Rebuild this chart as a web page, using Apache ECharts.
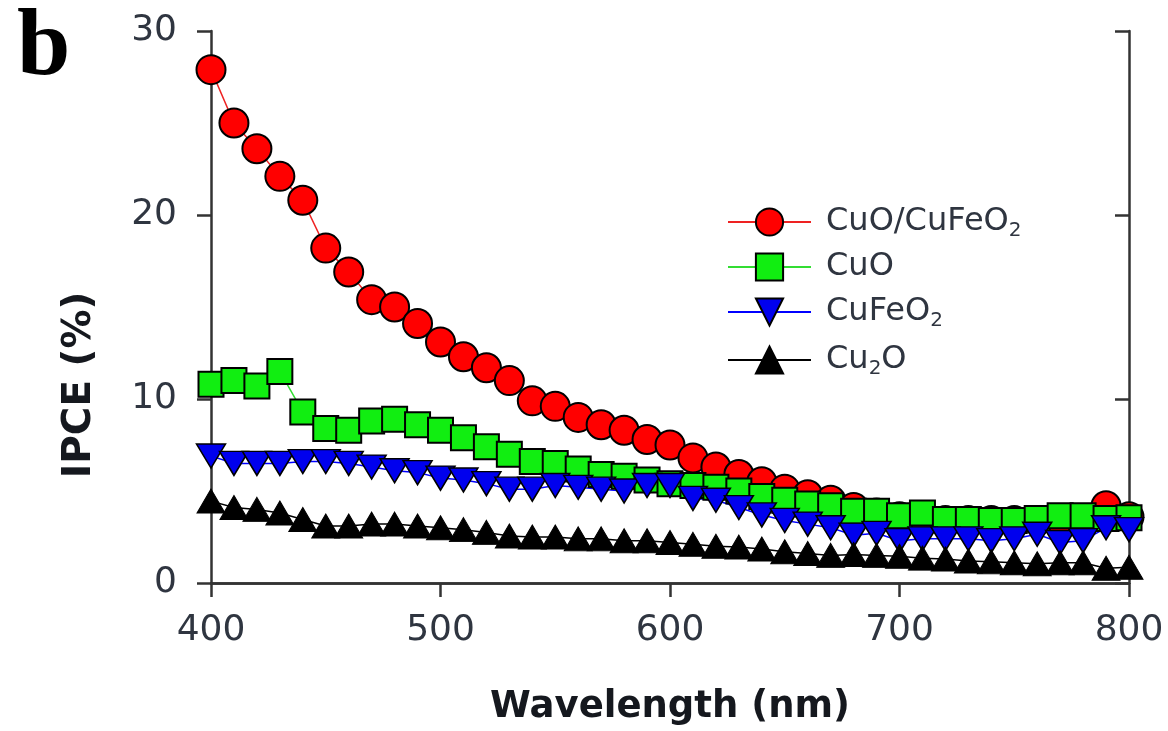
<!DOCTYPE html>
<html>
<head>
<meta charset="utf-8">
<script src="https://cdn.jsdelivr.net/npm/echarts@6/dist/echarts.min.js"></script>
<style>html,body{margin:0;padding:0;background:#fff}#c{width:1168px;height:731px}</style>
</head>
<body>
<div id="c"></div>
<script>
// Wavelength (nm)
const wavelengths = [400,410,420,430,440,450,460,470,480,490,500,510,520,530,540,550,560,570,580,590,600,610,620,630,640,650,660,670,680,690,700,710,720,730,740,750,760,770,780,790,800];
const xTicks = [400,500,600,700,800];
const yTicks = [0,10,20,30];
// IPCE (%)
const cuoCufeo2 = [27.9,25.0,23.6,22.1,20.8,18.2,16.9,15.4,15.0,14.1,13.1,12.3,11.7,11.0,9.9,9.6,9.0,8.6,8.3,7.8,7.5,6.8,6.3,5.9,5.5,5.1,4.8,4.5,4.1,3.8,3.6,3.5,3.4,3.4,3.4,3.4,3.4,3.2,3.4,4.2,3.6];
const cuo = [10.8,11.0,10.7,11.5,9.3,8.4,8.3,8.8,8.9,8.6,8.3,7.9,7.4,7.0,6.6,6.5,6.2,5.9,5.8,5.6,5.4,5.3,5.2,5.0,4.7,4.5,4.3,4.2,3.9,3.9,3.65,3.8,3.45,3.45,3.4,3.4,3.5,3.65,3.65,3.5,3.55];
const cufeo2 = [6.9,6.5,6.5,6.5,6.6,6.6,6.5,6.3,6.1,6.0,5.7,5.6,5.4,5.1,5.1,5.3,5.2,5.1,5.0,5.3,5.3,4.6,4.5,4.1,3.7,3.4,3.2,3.0,2.6,2.7,2.3,2.4,2.4,2.4,2.3,2.4,2.65,2.2,2.3,3.0,2.9];
const cu2o = [4.45,4.1,4.0,3.8,3.45,3.1,3.1,3.2,3.2,3.1,3.0,2.9,2.75,2.55,2.5,2.5,2.4,2.4,2.3,2.3,2.2,2.1,2.0,1.95,1.85,1.7,1.6,1.5,1.55,1.5,1.45,1.35,1.3,1.2,1.15,1.1,1.05,1.1,1.1,0.8,0.85];

const seriesNames = ['CuO/CuFeO2','CuO','CuFeO2','Cu2O'];
const legendRich = {
  'CuO/CuFeO2': '{n|CuO/CuFeO}{s|2}',
  'CuO': '{n|CuO}',
  'CuFeO2': '{n|CuFeO}{s|2}',
  'Cu2O': '{n|Cu}{s|2}{n|O}'
};

function pairs(arr){ return wavelengths.map((w,i)=>[w,arr[i]]); }

const axisColor = '#333';
const labelColor = '#2f3540';
const titleColor = '#15181e';
const chart = echarts.init(document.getElementById('c'), null, {renderer:'canvas'});

function mkSeries(name, data, symbol, size, fill, lineColor, border){
  return {
    name: name, type: 'line', data: pairs(data),
    symbol: symbol, symbolSize: size, clip: false,
    lineStyle: {color: lineColor, width: 1.5},
    itemStyle: {color: fill, borderColor: '#000', borderWidth: border},
    emphasis: {disabled: true},
    z: 3
  };
}

chart.setOption({
  animation: false,
  backgroundColor: '#fff',
  title: {
    text: 'b', left: 12, top: -4,
    textStyle: {fontFamily: 'Liberation Serif', fontWeight: 'bold', fontSize: 96, color: '#000'}
  },
  graphic: [{
    type: 'text', x: 80, y: 385, rotation: Math.PI / 2,
    style: {text: 'IPCE (%)', align: 'center', verticalAlign: 'middle',
      font: 'bold 39px "DejaVu Sans"', fill: titleColor}
  }],
  grid: {left: 211, right: 39, top: 31, bottom: 134, containLabel: false},
  legend: {
    orient: 'vertical', left: 722, top: 198,
    itemWidth: 83, itemHeight: 34, itemGap: 10,
    data: seriesNames,
    formatter: function(n){ return legendRich[n]; },
    textStyle: {
      padding: [0,0,0,10],
      rich: {
        n: {fontFamily: 'DejaVu Sans', fontSize: 32, color: labelColor, lineHeight: 34},
        s: {fontFamily: 'DejaVu Sans', fontSize: 20, color: labelColor, lineHeight: 34, padding: [18,0,0,0]}
      }
    }
  },
  xAxis: [{
    type: 'value', min: 400, max: 800, interval: 100, position: 'bottom',
    name: 'Wavelength (nm)', nameLocation: 'middle', nameGap: 106,
    nameTextStyle: {fontFamily: 'DejaVu Sans', fontWeight: 'bold', fontSize: 37, color: titleColor},
    axisLine: {show: true, lineStyle: {color: axisColor, width: 2.5}},
    axisTick: {show: true, inside: false, length: 14, lineStyle: {color: axisColor, width: 2.5}},
    axisLabel: {margin: 30, fontFamily: 'DejaVu Sans', fontSize: 36, color: labelColor,
      formatter: function(v){ return xTicks.indexOf(v) >= 0 ? String(v) : ''; }},
    splitLine: {show: false}
  },{
    type: 'value', min: 400, max: 800, interval: 100, position: 'top',
    axisLine: {show: true, lineStyle: {color: axisColor, width: 2.5}},
    axisTick: {show: true, inside: true, length: 14, lineStyle: {color: axisColor, width: 2.5}},
    axisLabel: {show: false}, splitLine: {show: false}
  }],
  yAxis: [{
    type: 'value', min: 0, max: 30, interval: 10, position: 'left',
    axisLine: {show: true, lineStyle: {color: axisColor, width: 2.5}},
    axisTick: {show: true, inside: false, length: 14, lineStyle: {color: axisColor, width: 2.5}},
    axisLabel: {margin: 34, fontFamily: 'DejaVu Sans', fontSize: 36, color: labelColor,
      formatter: function(v){ return yTicks.indexOf(v) >= 0 ? String(v) : ''; }},
    splitLine: {show: false}
  },{
    type: 'value', min: 0, max: 30, interval: 10, position: 'right',
    axisLine: {show: true, lineStyle: {color: axisColor, width: 2.5}},
    axisTick: {show: true, inside: true, length: 14, lineStyle: {color: axisColor, width: 2.5}},
    axisLabel: {show: false}, splitLine: {show: false}
  }],
  series: [
    mkSeries('CuO/CuFeO2', cuoCufeo2, 'circle', 29, '#ff0000', '#ee2222', 2),
    mkSeries('CuO', cuo, 'rect', 25, '#11ee11', '#33dd33', 2),
    mkSeries('CuFeO2', cufeo2, 'path://M0,0L20,0L10,17Z', [29,24], '#0000ee', '#0000ff', 1.5),
    mkSeries('Cu2O', cu2o, 'triangle', [28,24], '#000000', '#000000', 1)
  ]
});
</script>
</body>
</html>
